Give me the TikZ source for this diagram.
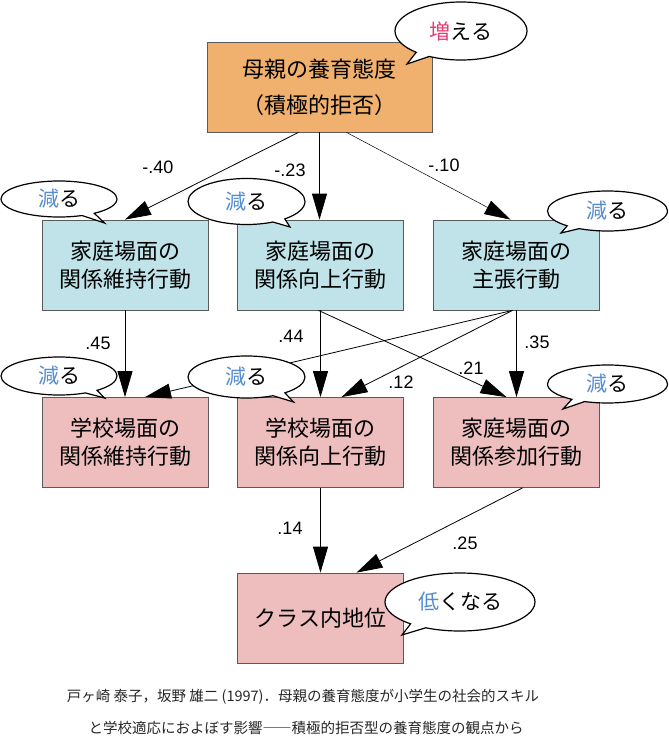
\documentclass[tikz,border=0pt]{standalone}
\usepackage{fontspec}
\setmainfont{Noto Sans CJK JP}
\newfontfamily\numfont{Liberation Sans}
\usepackage{xcolor}
\definecolor{ColM}{RGB}{240,176,110}
\definecolor{ColH}{RGB}{191,227,233}
\definecolor{ColS}{RGB}{238,190,191}
\definecolor{ColLine}{RGB}{90,90,90}
\definecolor{ColDown}{RGB}{85,140,210}
\definecolor{ColUp}{RGB}{230,60,120}
\usepackage{tikz}
\usetikzlibrary{arrows.meta}
\usetikzlibrary{shapes.callouts}
\tikzstyle{Box}=[rectangle,draw=ColLine,line width=0.8pt,align=center,
inner sep=0pt,minimum width=166pt,minimum height=90pt,
font=\fontsize{22}{28}\selectfont]
\tikzstyle{BoxM}=[Box,fill=ColM,minimum width=225pt]
\tikzstyle{BoxH}=[Box,fill=ColH]
\tikzstyle{BoxS}=[Box,fill=ColS]
\tikzstyle{Edge}=[draw=black,line width=0.8pt,-{Triangle[length=26pt,width=15pt]}]
\tikzstyle{Weight}=[inner sep=0pt,font=\numfont\fontsize{18}{18}\selectfont]
\tikzstyle{Bubble}=[ellipse callout,draw=black,fill=white,line width=1.2pt,
inner sep=0pt,callout pointer arc=14,font=\fontsize{21}{21}\selectfont]
\tikzstyle{Note}=[inner sep=0pt,text=black!85,font=\fontsize{14.5}{14.5}\selectfont]
\newcommand{\Down}{{\color{ColDown}減}る}

\begin{document}
\begin{tikzpicture}[x=1pt,y=-1pt]
        \useasboundingbox(0,0)rectangle(669,736);
        \node[BoxM](M)at(319.5,87){母親の養育態度\\[8pt]（積極的拒否）};
        \node[BoxH](H1)at(125,265){家庭場面の\\関係維持行動};
        \node[BoxH](H2)at(320.5,265){家庭場面の\\関係向上行動};
        \node[BoxH](H3)at(516.5,265){家庭場面の\\主張行動};
        \node[BoxS](S1)at(125,442.5){学校場面の\\関係維持行動};
        \node[BoxS](S2)at(320.5,442.5){学校場面の\\関係向上行動};
        \node[BoxS](S3)at(516.5,442.5){家庭場面の\\関係参加行動};
        \node[BoxS](C)at(320.5,618){クラス内地位};
        \draw[Edge]([xshift=-21pt]M.south)--(H1.north);
        \draw[Edge](M.south)--(M.south|-H2.north);
        \draw[Edge,line width=0.5pt]([xshift=27pt]M.south)--([xshift=-6pt]H3.north);
        \draw[Edge](H1.south)--(S1.north);
        \draw[Edge](H2.south)--(S2.north);
        \draw[Edge]([xshift=-2pt]H2.south)--([xshift=-10pt]S3.north);
        \draw[Edge](H3.south)--(S3.north);
        \draw[Edge]([xshift=-4pt]H3.south)--([xshift=20pt]S1.north);
        \draw[Edge]([xshift=-4pt]H3.south)--([xshift=21pt]S2.north);
        \draw[Edge](S2.south)--(C.north);
        \draw[Edge]([xshift=6pt]S3.south)--([xshift=36pt]C.north);
        \node[Weight](L1)at(158,167){-.40};
        \node[Weight](L2)at(290,170){-.23};
        \node[Weight](L3)at(444,165){-.10};
        \node[Weight](L4)at(98,343){.45};
        \node[Weight](L5)at(291,336){.44};
        \node[Weight](L6)at(537,342){.35};
        \node[Weight](L7)at(471,368){.21};
        \node[Weight](L8)at(401,382){.12};
        \node[Weight](L9)at(290,528){.14};
        \node[Weight](L10)at(465,543){.25};
        \node[Bubble,minimum width=132pt,minimum height=58pt,
          callout absolute pointer={(407,64)}](U)at(461,31){{\color{ColUp}増}える};
        \node[Bubble,minimum width=116pt,minimum height=36pt,
          callout absolute pointer={(104.5,223)}](D1)at(59,199){\Down};
        \node[Bubble,minimum width=117pt,minimum height=46pt,
          callout absolute pointer={(290,227)}](D2)at(246.5,201.5){\Down};
        \node[Bubble,minimum width=120pt,minimum height=40pt,
          callout absolute pointer={(561,233)}](D3)at(607.5,211){\Down};
        \node[Bubble,minimum width=116pt,minimum height=38pt,
          callout absolute pointer={(104.5,398)}](D4)at(59,376){\Down};
        \node[Bubble,minimum width=117pt,minimum height=42pt,
          callout absolute pointer={(293.5,402)}](D5)at(246.5,377){\Down};
        \node[Bubble,minimum width=120pt,minimum height=38pt,
          callout absolute pointer={(563,409)}](D6)at(607.5,384){\Down};
        \node[Bubble,minimum width=150pt,minimum height=58pt,
          callout absolute pointer={(402,635)}](L)at(460,602){{\color{ColDown}低}くなる};
        \node[Note](N1)at(303,697){戸ヶ崎 泰子，坂野 雄二 (1997)．母親の養育態度が小学生の社会的スキル};
        \node[Note](N2)at(306,728){と学校適応におよぼす影響――積極的拒否型の養育態度の観点から};
    \end{tikzpicture}
\end{document}
